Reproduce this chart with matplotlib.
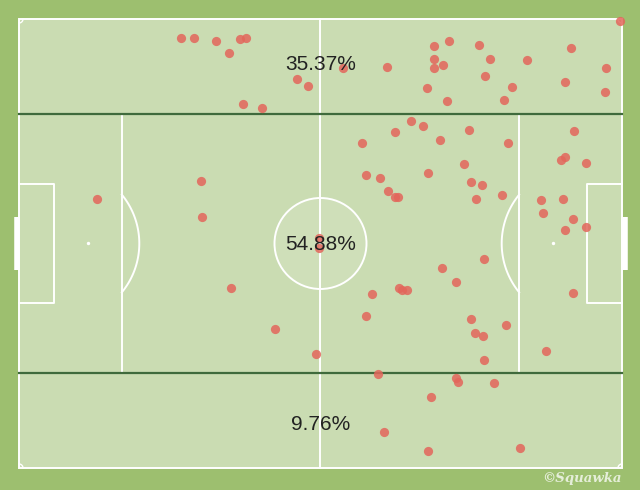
import numpy as np
import matplotlib
matplotlib.use("Agg")
import matplotlib.pyplot as plt
from matplotlib.patches import Rectangle, Ellipse

# Event locations on an Opta-style 0-100 pitch (x: left->right, y: top->bottom)
xs = [26.9, 29.1, 32.6, 36.7, 37.7, 34.8, 46.1, 48.0, 37.1, 40.3,
      53.8, 99.7, 61.0, 68.8, 71.3, 76.3, 68.9, 70.3, 68.8, 78.1,
      84.3, 91.5, 97.4, 77.2, 90.5, 97.2, 67.7, 81.7, 71.0, 80.5,
      65.0, 67.0, 62.4, 74.6, 56.8, 69.8, 81.1, 92.1, 90.5, 89.9,
      94.0, 73.8, 57.6, 59.8, 67.9, 74.9, 76.7, 61.2, 62.3, 62.8,
      75.8, 80.1, 86.5, 90.2, 86.9, 91.8, 94.1, 90.6, 30.2, 13.0,
      30.3, 49.7, 49.7, 35.2, 42.5, 49.2, 77.1, 70.1, 72.4, 58.5,
      63.0, 63.5, 64.4, 57.6, 75.0, 80.8, 75.6, 76.9, 91.9, 87.4,
      77.1, 59.5, 72.4, 72.8, 78.8, 68.4, 60.6, 67.8, 83.1]
ys = [4.2, 4.2, 5.0, 4.5, 4.2, 7.6, 13.4, 14.9, 18.9, 19.8,
      11.0, 0.4, 10.6, 6.1, 4.9, 5.7, 8.8, 10.2, 11.0, 8.8,
      9.2, 6.5, 11.0, 12.6, 14.0, 16.3, 15.4, 15.2, 18.3, 18.1,
      22.7, 23.8, 25.2, 24.7, 27.7, 26.9, 27.7, 24.9, 30.7, 31.4,
      32.1, 32.4, 34.7, 35.5, 34.2, 36.4, 37.0, 38.2, 39.6, 39.6,
      40.1, 39.2, 40.4, 40.1, 43.1, 44.5, 46.3, 47.1, 36.1, 40.0,
      44.0, 48.8, 51.0, 59.8, 69.0, 74.5, 53.4, 55.4, 58.5, 61.3,
      60.0, 60.4, 60.4, 66.1, 66.9, 68.2, 70.0, 70.6, 61.1, 73.9,
      75.9, 79.1, 80.0, 80.8, 81.1, 84.2, 92.0, 96.3, 95.5]

zone_labels = ["35.37%", "54.88%", "9.76%"]
zone_centers_y = [10.2, 50.3, 90.3]

OUTER = "#9dbf6f"
PITCH = "#cadcb2"
DARK = "#3f6a3c"
WHITE = "#ffffff"
DOT = "#e3665b"

fig = plt.figure(figsize=(6.4, 4.9), dpi=100)
fig.patch.set_facecolor(OUTER)
ax = fig.add_axes([0, 0, 1, 1])
ax.set_facecolor(OUTER)
sx, sy = 6.03, 4.49  # px per pitch unit
ax.set_xlim(-19 / sx, (640 - 19) / sx)
ax.set_ylim((490 - 19) / sy, -19 / sy)
ax.axis("off")

lw = 1.4
ax.add_patch(Rectangle((0, 0), 100, 100, facecolor=PITCH, edgecolor=WHITE, lw=lw, zorder=1))
# halfway line
ax.plot([50, 50], [0, 100], color=WHITE, lw=lw, zorder=2)
# penalty boxes
ax.plot([17, 17], [21.1, 78.9], color=WHITE, lw=lw, zorder=2)
ax.plot([83, 83], [21.1, 78.9], color=WHITE, lw=lw, zorder=2)
# six-yard boxes
ax.plot([0, 5.8, 5.8, 0], [36.8, 36.8, 63.2, 63.2], color=WHITE, lw=lw, zorder=2)
ax.plot([100, 94.2, 94.2, 100], [36.8, 36.8, 63.2, 63.2], color=WHITE, lw=lw, zorder=2)
# spots
ax.scatter([11.4, 88.6], [50, 50], s=6, color=WHITE, zorder=2, linewidths=0)
# centre circle
ax.add_patch(Ellipse((50, 50), 2 * 46 / sx, 2 * 45.5 / sy, facecolor=(1, 1, 1, 0.10),
                     edgecolor=WHITE, lw=lw, zorder=2))
# penalty arcs (circles in pixel space)
r = 77.0
t = np.linspace(-np.pi / 2, np.pi / 2, 200)
cx_l = (62.3 - 19) / sx
axl = cx_l + r * np.cos(t) / sx
ayl = 50 + r * np.sin(t) / sy
m = axl >= 17
ax.plot(axl[m], ayl[m], color=WHITE, lw=lw, zorder=2)
cx_r = 100 - cx_l
axr = cx_r - r * np.cos(t) / sx
m = axr <= 83
ax.plot(axr[m], ayl[m], color=WHITE, lw=lw, zorder=2)
# corner arcs
tc = np.linspace(0, np.pi / 2, 30)
rc = 4.0
for (cx, cy, sgx, sgy) in [(0, 0, 1, 1), (100, 0, -1, 1), (0, 100, 1, -1), (100, 100, -1, -1)]:
    ax.plot(cx + sgx * rc * np.cos(tc) / sx, cy + sgy * rc * np.sin(tc) / sy,
            color=WHITE, lw=1.0, zorder=2)
# goals
ax.plot([-2.5 / sx, -2.5 / sx], [44.1, 55.9], color=WHITE, lw=4, solid_capstyle="butt", zorder=2)
ax.plot([100 + 2.5 / sx, 100 + 2.5 / sx], [44.1, 55.9], color=WHITE, lw=4, solid_capstyle="butt", zorder=2)
# zone division lines
ax.plot([0, 100], [21.1, 21.1], color=DARK, lw=1.6, zorder=3)
ax.plot([0, 100], [78.9, 78.9], color=DARK, lw=1.6, zorder=3)

# points
ax.scatter(xs, ys, s=44, color=DOT, alpha=0.85, linewidths=0, zorder=4)

# labels
for lab, yc in zip(zone_labels, zone_centers_y):
    ax.text(50, yc, lab, ha="center", va="center", fontsize=15,
            family="Liberation Sans", color="#222222", zorder=5)

ax.text(100, 102.4, "\u00a9Squawka", ha="right", va="center", fontsize=9.5,
        family="DejaVu Serif", style="italic", weight="bold", color="#eef4e6",
        alpha=0.9, zorder=5)

fig.savefig("out.png", dpi=100, facecolor=OUTER)
